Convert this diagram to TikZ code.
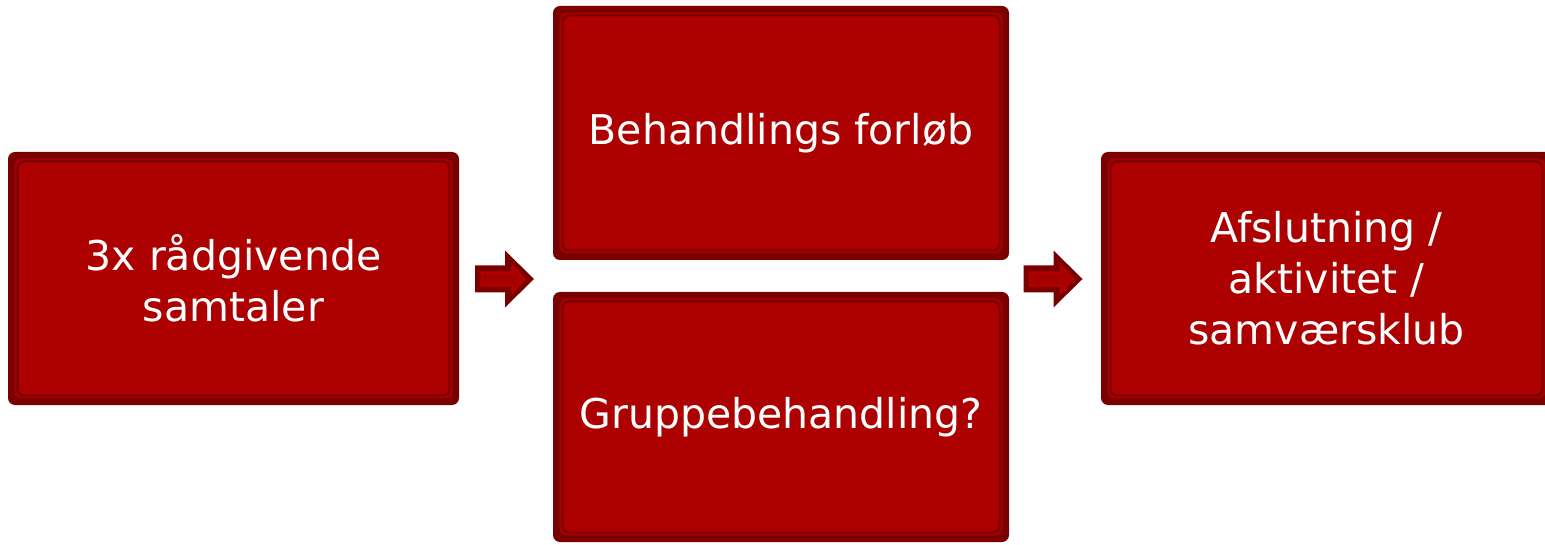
\documentclass[tikz,border=0pt]{standalone}
\usepackage{fontspec}
\setmainfont{DejaVu Sans}
\definecolor{dkred}{HTML}{7A0000}
\definecolor{ltred}{HTML}{A40000}
\definecolor{mnred}{HTML}{AD0000}
\definecolor{brred}{HTML}{B40000}
\tikzset{
  x=1pt,y=1pt,
  redbox/.style={fill=dkred, rounded corners=7pt, inner sep=0pt, align=center,
    text=white, font=\fontsize{41}{51}\selectfont,
    path picture={
      \fill[ltred] ([shift={(6.5pt,6.5pt)}]path picture bounding box.south west) rectangle ([shift={(-6.5pt,-6.5pt)}]path picture bounding box.north east);
      \fill[dkred] ([shift={(8.5pt,8.5pt)}]path picture bounding box.south west) rectangle ([shift={(-8.5pt,-8.5pt)}]path picture bounding box.north east);
      \fill[mnred] ([shift={(10.5pt,10.5pt)}]path picture bounding box.south west) rectangle ([shift={(-10.5pt,-10.5pt)}]path picture bounding box.north east);
    }},
  blockarrow/.pic={
    \fill[dkred] (-29.5,13.5) -- (0.5,13.5) -- (0.5,28.5) -- (29.5,0) -- (0.5,-28.5) -- (0.5,-13.5) -- (-29.5,-13.5) -- cycle;
    \filldraw[draw=brred, fill=ltred, line width=2.2pt, line join=miter]
      (-23,6.5) -- (8,6.5) -- (8,13) -- (20,0) -- (8,-13) -- (8,-6.5) -- (-23,-6.5) -- cycle;
  }
}
\begin{document}
\begin{tikzpicture}
\useasboundingbox (0,0) rectangle (1545,544);
\clip (0,0) rectangle (1545,544);
\node[redbox, minimum width=451pt, minimum height=253pt] (b1) at (233.5,265.5) {3x rådgivende\\samtaler};
\node[redbox, minimum width=456pt, minimum height=254pt] (b2) at (781,411) {Behandlings forløb};
\node[redbox, minimum width=456pt, minimum height=250pt] (b3) at (781,127) {Gruppebehandling?};
\node[redbox, minimum width=451pt, minimum height=253pt] (b4) at (1326.5,265.5) {Afslutning /\\aktivitet /\\samværsklub};
\coordinate (a1) at (504.5,265);
\coordinate (a2) at (1053,265);
\pic at (a1) {blockarrow};
\pic at (a2) {blockarrow};
\end{tikzpicture}
\end{document}
